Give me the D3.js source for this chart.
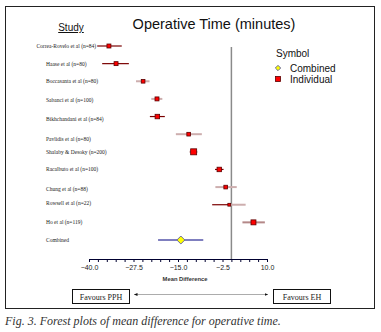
<!DOCTYPE html>
<html>
<head>
<meta charset="utf-8">
<script src="https://cdn.jsdelivr.net/npm/d3@7"></script>
<style>
  body { margin: 0; background: #fff; }
  svg { display: block; }
</style>
</head>
<body>
<svg width="381" height="332"></svg>
<script>
// --- data ---
var studies = ["Correa-Rovelo et al (n=84)", "Haase et al (n=80)", "Boccasanta et al (n=80)",
  "Sabanci et al (n=100)", "Bikhchandani et al (n=84)", "Pavlidis et al (n=80)",
  "Shalaby & Desoky (n=200)", "Racalbuto et al (n=100)", "Chung et al (n=88)",
  "Rowsell et al (n=22)", "Ho et al (n=119)", "Combined"];
var meanDiff = [-34.4, -32.4, -24.8, -20.9, -20.8, -12.0, -10.6, -3.4, -1.6, -0.6, 6.2, -14.2];
var ciLow    = [-37.7, -36.3, -26.8, -22.5, -22.9, -15.6, -11.8, -4.6, -4.5, -5.4, 3.1, -20.6];
var ciHigh   = [-30.8, -28.8, -23.0, -19.4, -18.7, -8.3, -9.5, -2.2, 1.5, 4.0, 9.4, -7.9];
var weights  = [7, 7, 6, 7, 9, 6, 16, 9, 6, 3.5, 11, 0];
var tickLabels = [-40, -27.5, -15, -2.5, 10];
var legendItems = ["Combined", "Individual"];

// how each CI line looks in the original (some are washed out)
var lineTone = {0: "dark", 1: "dark", 2: "light", 3: "light", 4: "dark", 5: "light",
  6: "light", 7: "dark", 8: "light", 9: "split", 10: "mid"};
var toneColor = {dark: "#7a0000", light: "#cdaeae", mid: "#b48888"};
// labels in the original sit a little off their rows
var labelNudge = {3: 1.5, 4: 2, 5: 4.5, 8: 1.5, 9: -2};

var svg = d3.select("svg");

var rows = studies.map(function(s, i) {
  return {study: s, mean: meanDiff[i], lo: ciLow[i], hi: ciHigh[i], w: weights[i], i: i};
});

var x = d3.scaleLinear().domain([-40, 10]).range([89, 267]);
var y = d3.scalePoint().domain(studies).range([46, 240]);
var side = d3.scaleSqrt().domain([0, 16]).range([0, 6]);

// frame
svg.append("rect")
  .attr("x", 5.5).attr("y", 6.5)
  .attr("width", 369).attr("height", 302)
  .attr("fill", "none")
  .attr("stroke", "#222")
  .attr("stroke-width", 1);

// Title
svg.append("text")
  .attr("x", 214).attr("y", 29)
  .attr("text-anchor", "middle")
  .attr("font-family", "Liberation Sans, Arial, sans-serif")
  .attr("font-size", 14.5)
  .attr("fill", "#111")
  .text("Operative Time (minutes)");

// Study header
svg.append("text")
  .attr("x", 71).attr("y", 31)
  .attr("text-anchor", "middle")
  .attr("font-family", "Liberation Sans, Arial, sans-serif")
  .attr("font-size", 10)
  .attr("fill", "#111")
  .attr("text-decoration", "underline")
  .text("Study");

// zero line
svg.append("line")
  .attr("x1", x(0)).attr("x2", x(0))
  .attr("y1", 47).attr("y2", 259)
  .attr("stroke", "#8a8a8a")
  .attr("stroke-width", 1.5);

// axis
var axis = d3.axisBottom(x)
  .tickValues(d3.range(-40, 10.01, 2.5))
  .tickSize(3)
  .tickSizeOuter(0)
  .tickFormat(function(d) {
    return tickLabels.indexOf(d) >= 0 ? d3.format(".1f")(d) : "";
  });

var gAxis = svg.append("g")
  .attr("transform", "translate(0,259)")
  .call(axis);
gAxis.select(".domain").attr("stroke", "#000030");
gAxis.selectAll(".tick line").attr("stroke", "#000030");
gAxis.selectAll(".tick text")
  .attr("y", 6)
  .attr("font-family", "Liberation Sans, Arial, sans-serif")
  .attr("font-size", 7)
  .attr("fill", "#222");

svg.append("text")
  .attr("x", 185).attr("y", 281)
  .attr("text-anchor", "middle")
  .attr("font-family", "Liberation Sans, Arial, sans-serif")
  .attr("font-size", 5.8)
  .attr("font-weight", "bold")
  .attr("fill", "#333")
  .text("Mean Difference");

// study labels
var labels = svg.append("g").selectAll("text")
  .data(rows)
  .enter().append("text")
  .attr("x", 46)
  .attr("y", function(d) { return y(d.study) + 2 + (labelNudge[d.i] || 0); })
  .attr("font-family", "Liberation Serif, Times New Roman, serif")
  .attr("font-size", 5.5)
  .attr("fill", "#222")
  .text(function(d) { return d.study; });

// push a label left when it would run into its own CI line
labels.each(function(d) {
  var w = this.getComputedTextLength();
  if (46 + w > x(d.lo) - 1) d3.select(this).attr("x", x(d.lo) - 1 - w);
});

// CI lines
var individual = rows.filter(function(d) { return d.study !== "Combined"; });
var combined = rows.filter(function(d) { return d.study === "Combined"; });

var ci = svg.append("g");
individual.forEach(function(d) {
  var tone = lineTone[d.i];
  if (tone === "split") {
    ci.append("line")
      .attr("x1", x(d.mean)).attr("x2", x(d.hi))
      .attr("y1", y(d.study)).attr("y2", y(d.study))
      .attr("stroke", toneColor.light).attr("stroke-width", 2);
    ci.append("line")
      .attr("x1", x(d.lo)).attr("x2", x(d.mean))
      .attr("y1", y(d.study)).attr("y2", y(d.study))
      .attr("stroke", toneColor.dark).attr("stroke-width", 1.2);
  } else {
    ci.append("line")
      .attr("x1", x(d.lo)).attr("x2", x(d.hi))
      .attr("y1", y(d.study)).attr("y2", y(d.study))
      .attr("stroke", toneColor[tone])
      .attr("stroke-width", tone === "dark" ? 1.2 : 2);
  }
});

combined.forEach(function(d) {
  ci.append("line")
    .attr("x1", x(d.lo)).attr("x2", x(d.hi))
    .attr("y1", y(d.study)).attr("y2", y(d.study))
    .attr("stroke", "#000080")
    .attr("stroke-width", 1.2);
});

// squares
svg.append("g").selectAll("rect")
  .data(individual)
  .enter().append("rect")
  .attr("x", function(d) { return x(d.mean) - side(d.w) / 2; })
  .attr("y", function(d) { return y(d.study) - side(d.w) / 2; })
  .attr("width", function(d) { return side(d.w); })
  .attr("height", function(d) { return side(d.w); })
  .attr("fill", "#ff0000")
  .attr("stroke", "#5a0000")
  .attr("stroke-width", 0.8);

// diamond
var diamond = d3.symbol().type(d3.symbolDiamond2);
svg.append("g").selectAll("path")
  .data(combined)
  .enter().append("path")
  .attr("transform", function(d) { return "translate(" + x(d.mean) + "," + y(d.study) + ")"; })
  .attr("d", diamond.size(40)())
  .attr("fill", "#ffff00")
  .attr("stroke", "#6a6aa0")
  .attr("stroke-width", 1);

// legend
var legend = svg.append("g").attr("transform", "translate(277,0)");
legend.append("text")
  .attr("x", -1).attr("y", 57)
  .attr("font-family", "Liberation Sans, Arial, sans-serif")
  .attr("font-size", 10)
  .attr("fill", "#111")
  .text("Symbol");

legendItems.forEach(function(name, i) {
  var ly = 68 + i * 11;
  if (name === "Combined") {
    legend.append("path")
      .attr("transform", "translate(1," + ly + ")")
      .attr("d", diamond.size(18)())
      .attr("fill", "#ffff00")
      .attr("stroke", "#6a6aa0")
      .attr("stroke-width", 1);
  } else {
    legend.append("rect")
      .attr("x", -1.5).attr("y", ly - 2.5)
      .attr("width", 5).attr("height", 5)
      .attr("fill", "#ff0000")
      .attr("stroke", "#5a0000")
      .attr("stroke-width", 0.8);
  }
  legend.append("text")
    .attr("x", 13).attr("y", ly + 3.5)
    .attr("font-family", "Liberation Sans, Arial, sans-serif")
    .attr("font-size", 10)
    .attr("fill", "#111")
    .text(name);
});

// favours boxes and arrow
var favours = [
  {label: "Favours PPH", x0: 72, x1: 129},
  {label: "Favours EH", x0: 273, x1: 330}
];
favours.forEach(function(f) {
  svg.append("rect")
    .attr("x", f.x0 + 0.5).attr("y", 289.5)
    .attr("width", f.x1 - f.x0).attr("height", 14)
    .attr("fill", "#fff")
    .attr("stroke", "#111")
    .attr("stroke-width", 1);
  svg.append("text")
    .attr("x", (f.x0 + f.x1) / 2 + 0.5).attr("y", 299.5)
    .attr("text-anchor", "middle")
    .attr("font-family", "Liberation Serif, Times New Roman, serif")
    .attr("font-size", 8)
    .attr("fill", "#222")
    .text(f.label);
});

var defs = svg.append("defs");
defs.append("marker")
  .attr("id", "arrow")
  .attr("viewBox", "0 0 10 10")
  .attr("refX", 10).attr("refY", 5)
  .attr("markerWidth", 5).attr("markerHeight", 5)
  .attr("orient", "auto-start-reverse")
  .append("path")
  .attr("d", "M0,1L10,5L0,9Z")
  .attr("fill", "#111");

svg.append("line")
  .attr("x1", 134).attr("x2", 268)
  .attr("y1", 294.5).attr("y2", 294.5)
  .attr("stroke", "#888")
  .attr("stroke-width", 0.7)
  .attr("marker-start", "url(#arrow)")
  .attr("marker-end", "url(#arrow)");

// caption
svg.append("text")
  .attr("x", 5).attr("y", 325)
  .attr("font-family", "Liberation Serif, Times New Roman, serif")
  .attr("font-style", "italic")
  .attr("font-size", 12)
  .attr("fill", "#333")
  .text("Fig. 3. Forest plots of mean difference for operative time.");
</script>
</body>
</html>
